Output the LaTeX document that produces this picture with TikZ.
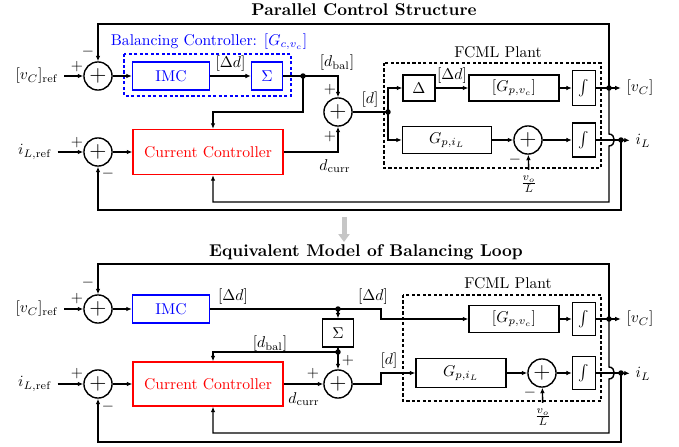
\documentclass[tikz,border=0pt]{standalone}
\usetikzlibrary{arrows.meta}

\begin{document}
\begin{tikzpicture}[x=0.64pt, y=-0.64pt, >={Latex[length=3.5pt,width=3pt]}, line width=0.9pt,
    blk/.style={draw, inner sep=0pt, minimum height=17.9pt},
    sumnode/.style={draw, circle, inner sep=0pt, minimum size=18pt, font=\Large},
    junc/.style={circle, fill, inner sep=0pt, minimum size=3.5pt},
    grp/.style={dash pattern=on 2pt off 1.5pt},
    ttl/.style={font=\bfseries\fontsize{10.9}{13}\selectfont}]
        % 画布大小
        \useasboundingbox (0,0) rectangle (679,447);

        % ===== 上半部分: 并联控制结构 =====
        \node[ttl] (t1) at (364,10) {Parallel Control Structure};
        \node (vref1) at (37,76) {$[v_C]_{\mathrm{ref}}$};
        \node (iref1) at (35,152) {$i_{L,\mathrm{ref}}$};
        \node[sumnode] (s1) at (98,76) {$+$};
        \node[sumnode] (s3) at (98,152) {$+$};
        \node[sumnode] (s2) at (338,112) {$+$};
        \node[blk, draw=blue, text=blue, minimum width=49.3pt] (imc1) at (171,76) {IMC};
        \node[blk, draw=blue, text=blue, minimum width=19.8pt] (sig1) at (267,76) {$\Sigma$};
        \node[blk, draw=red, text=red, minimum width=96pt, minimum height=28.8pt] (cc1) at (208,152) {Current Controller};
        \node[junc] (j1) at (303,76) {};
        \coordinate (ccin1) at (213,112);

        % 平衡控制器虚线框
        \draw[grp, blue] (124,54) rectangle (291,96);
        \node[text=blue] (bal1) at (209,42) {Balancing Controller: $[G_{c,v_c}]$};

        % FCML 对象
        \draw[grp] (384,63) rectangle (601,168);
        \node (pl1) at (498,52) {FCML Plant};
        \node[junc] (j2) at (388,112) {};
        \node[blk, minimum width=20.5pt, minimum height=16.6pt] (del1) at (419,88) {$\Delta$};
        \node[blk, minimum width=57.6pt, minimum height=16.6pt] (gv1) at (514,88) {$[G_{p,v_c}]$};
        \node[blk, minimum width=14.7pt, minimum height=22.4pt, font=\Large] (int1) at (584,88) {$\int$};
        \node[blk, minimum width=57pt, minimum height=17.3pt] (gi1) at (447,140) {$G_{p,i_L}$};
        \node[sumnode] (s4) at (528,140) {$+$};
        \node[blk, minimum width=14.7pt, minimum height=22pt, font=\Large] (int2) at (584,140) {$\int$};
        \node (vo1) at (529,184) {$\frac{v_o}{L}$};
        \node[junc] (j3) at (609,88) {};
        \node[junc] (j4) at (621,140) {};
        \node (vc1) at (640,88) {$[v_C]$};
        \node (il1) at (643,141) {$i_L$};

        % 连线
        \draw[->] (vref1) -- (s1);
        \draw[->] (s1) -- (imc1);
        \draw[->] (imc1) -- node[above=-1pt] {$[\Delta d]$} (sig1);
        \draw (sig1) -- (j1.center);
        \draw[->] (j1.center) -| (s2);
        \draw[->] (j1.center) |- (ccin1) -- (ccin1 |- cc1.north);
        \draw[->] (iref1) -- (s3);
        \draw[->] (s3) -- (cc1);
        \draw[->] (cc1) -| (s2);
        \draw (s2) -- (j2.center);
        \draw[->] (j2.center) |- (del1);
        \draw[->] (j2.center) |- (gi1);
        \draw[->] (del1) -- node[above=-1pt] {$[\Delta d]$} (gv1);
        \draw[->] (gv1) -- (int1);
        \draw[->] (gi1) -- (s4);
        \draw[->] (s4) -- (int2);
        \draw[->] (vo1) -- (s4);
        \draw (int1) -- (j3.center);
        \draw[->] (j3.center) -- (vc1);
        \draw (int2) -- (j4.center);
        \draw[->] (j4.center) -- (il1);

        % 反馈
        \draw[->] (j3.center) -- (609,24) -| (s1);
        \draw[->] (j3.center) -- (609,134) .. controls (616,134) and (616,146) .. (609,146) -- (609,202) -| (ccin1 |- cc1.south);
        \draw[->] (j4.center) -- (621,210) -| (s3);

        % 符号与标注
        \node at (77,67) {$+$};
        \node at (88,52) {$-$};
        \node at (77,143) {$+$};
        \node at (108,174) {$-$};
        \node at (330,90) {$+$};
        \node at (330,137) {$+$};
        \node at (515,160) {$-$};
        \node at (337,63) {$[d_{\mathrm{bal}}]$};
        \node at (370,100) {$[d]$};
        \node at (335,166) {$d_{\mathrm{curr}}$};

        % 灰色箭头
        \draw[gray!45, line width=3.2pt, -{Triangle[width=7pt,length=5pt]}] (344,217) -- (344,242);

        % ===== 下半部分: 平衡环等效模型 =====
        \node[ttl] (t2) at (366,252) {Equivalent Model of Balancing Loop};
        \node (vref2) at (37,309) {$[v_C]_{\mathrm{ref}}$};
        \node (iref2) at (35,384) {$i_{L,\mathrm{ref}}$};
        \node[sumnode] (s5) at (98,309) {$+$};
        \node[sumnode] (s7) at (98,384) {$+$};
        \node[sumnode] (s6) at (338,384) {$+$};
        \node[blk, draw=blue, text=blue, minimum width=49.3pt] (imc2) at (171,309) {IMC};
        \node[blk, draw=red, text=red, minimum width=96pt, minimum height=28.2pt] (cc2) at (208,384) {Current Controller};
        \node[junc] (j5) at (338,309) {};
        \node[blk, minimum width=19.8pt] (sig2) at (338,333) {$\Sigma$};
        \node[junc] (j6) at (338,352) {};
        \coordinate (ccin2) at (213,352);

        % FCML 对象
        \draw[grp] (403,295) rectangle (601,401);
        \node (pl2) at (508,283) {FCML Plant};
        \node[blk, minimum width=57.6pt, minimum height=17.3pt] (gv2) at (514,319) {$[G_{p,v_c}]$};
        \node[blk, minimum width=14.7pt, minimum height=21.1pt, font=\Large] (int3) at (584,319) {$\int$};
        \node[blk, minimum width=57.6pt, minimum height=18.6pt] (gi2) at (461,373) {$G_{p,i_L}$};
        \node[sumnode] (s8) at (542,373) {$+$};
        \node[blk, minimum width=14.7pt, minimum height=21.1pt, font=\Large] (int4) at (584,373) {$\int$};
        \node (vo2) at (543,417) {$\frac{v_o}{L}$};
        \node[junc] (j7) at (609,319) {};
        \node[junc] (j8) at (621,373) {};
        \node (vc2) at (640,319) {$[v_C]$};
        \node (il2) at (643,374) {$i_L$};

        % 连线
        \draw[->] (vref2) -- (s5);
        \draw[->] (s5) -- (imc2);
        \draw (imc2) -- (j5.center);
        \draw[->] (j5.center) -- (381,309) |- (gv2);
        \draw[->] (j5.center) -- (sig2);
        \draw (sig2) -- (j6.center);
        \draw[->] (j6.center) -- (s6);
        \draw[->] (j6.center) -- (ccin2) -- (ccin2 |- cc2.north);
        \draw[->] (iref2) -- (s7);
        \draw[->] (s7) -- (cc2);
        \draw[->] (cc2) -- (s6);
        \draw[->] (s6) -- (381,384) |- (gi2);
        \draw[->] (gv2) -- (int3);
        \draw[->] (gi2) -- (s8);
        \draw[->] (s8) -- (int4);
        \draw[->] (vo2) -- (s8);
        \draw (int3) -- (j7.center);
        \draw[->] (j7.center) -- (vc2);
        \draw (int4) -- (j8.center);
        \draw[->] (j8.center) -- (il2);

        % 反馈
        \draw[->] (j7.center) -- (609,264) -| (s5);
        \draw[->] (j7.center) -- (609,367) .. controls (616,367) and (616,379) .. (609,379) -- (609,433) -| (ccin2 |- cc2.south);
        \draw[->] (j8.center) -- (621,442) -| (s7);

        % 符号与标注
        \node at (77,299) {$+$};
        \node at (88,283) {$-$};
        \node at (77,374) {$+$};
        \node at (108,407) {$-$};
        \node at (348,361) {$+$};
        \node at (313,374) {$+$};
        \node at (530,393) {$-$};
        \node at (233,297) {$[\Delta d]$};
        \node at (373,297) {$[\Delta d]$};
        \node at (270,344) {$[d_{\mathrm{bal}}]$};
        \node at (389,361) {$[d]$};
        \node at (304,399) {$d_{\mathrm{curr}}$};
    \end{tikzpicture}
\end{document}
